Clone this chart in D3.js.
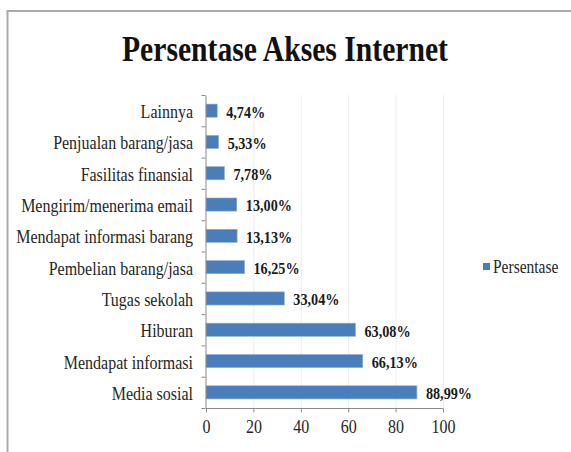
<!DOCTYPE html>
<html><head><meta charset="utf-8">
<script src="https://cdn.jsdelivr.net/npm/d3@7"></script>
<style>body{margin:0;background:#fff}svg{display:block}</style>
</head><body>
<svg id="c" width="571" height="452"></svg>
<script>
const categories = ["Lainnya","Penjualan barang/jasa","Fasilitas finansial","Mengirim/menerima email","Mendapat informasi barang","Pembelian barang/jasa","Tugas sekolah","Hiburan","Mendapat informasi","Media sosial"];
const values = [4.74,5.33,7.78,13.00,13.13,16.25,33.04,63.08,66.13,88.99];
const valueLabels = ["4,74%","5,33%","7,78%","13,00%","13,13%","16,25%","33,04%","63,08%","66,13%","88,99%"];
const xTicks = [0,20,40,60,80,100];
const seriesName = "Persentase";
const title = "Persentase Akses Internet";

const svg = d3.select("#c");
const FONT = "'Liberation Serif','Times New Roman',serif";
const condense = (sel, f) => sel.each(function(){ const w=this.getComputedTextLength(); d3.select(this).attr("textLength", w*f).attr("lengthAdjust","spacingAndGlyphs"); });

// frame
svg.append("line").attr("x1",7.5).attr("x2",571).attr("y1",11).attr("y2",11).attr("stroke","#aaa").attr("stroke-width",2);
svg.append("line").attr("x1",7.5).attr("x2",7.5).attr("y1",10).attr("y2",452).attr("stroke","#aaa").attr("stroke-width",2);

const x = d3.scaleLinear().domain([0,100]).range([206,443]);
const y = d3.scaleBand().domain(categories).range([95,408]).paddingInner(0.58).paddingOuter(0.29);
const yIdx = d3.scaleLinear().domain([0,categories.length]).range([95,408]);

// gridlines
svg.append("g").selectAll("line").data(xTicks.slice(1)).join("line")
  .attr("x1",d=>x(d)+0.5).attr("x2",d=>x(d)+0.5).attr("y1",95).attr("y2",408)
  .attr("stroke","#ececec").attr("stroke-width",1);

// bars
svg.append("g").selectAll("rect").data(values).join("rect")
  .attr("x",x(0)).attr("y",(d,i)=>y(categories[i]))
  .attr("width",d=>x(d)-x(0)).attr("height",y.bandwidth())
  .attr("fill","#4a7ebb").attr("stroke","#8fb0dc").attr("stroke-width",0.6);

// value labels
svg.append("g").selectAll("text").data(values).join("text")
  .attr("x",d=>x(d)+9).attr("y",(d,i)=>y(categories[i])+y.bandwidth()/2+1).attr("dy","0.36em")
  .attr("font-family",FONT).attr("font-weight","bold").attr("font-size",16.5).attr("fill","#1a1a1a")
  .text((d,i)=>valueLabels[i]).call(condense,0.86);

// y axis ticks
const yAx = svg.append("g").attr("transform","translate(205.5,0)")
  .call(d3.axisLeft(yIdx).tickValues(d3.range(categories.length+1)).tickFormat("").tickSize(4).tickSizeOuter(0));
yAx.selectAll("path,line").attr("stroke","#8a8a8a");

// category labels
svg.append("g").selectAll("text").data(categories).join("text")
  .attr("x",193).attr("y",d=>y(d)+y.bandwidth()/2+0.5).attr("dy","0.36em").attr("text-anchor","end")
  .attr("font-family",FONT).attr("font-size",19.5).attr("fill","#262626")
  .text(d=>d).call(condense,0.82);

// x axis
const xAx = svg.append("g").attr("transform","translate(0,408.5)")
  .call(d3.axisBottom(x).tickValues(xTicks).tickSize(4).tickSizeOuter(0).tickFormat(d=>d));
xAx.selectAll("path,line").attr("stroke","#8a8a8a");
xAx.select(".domain").attr("d",`M${x(0)},0H${x(100)}`);
xAx.selectAll("text").attr("font-family",FONT).attr("font-size",19.5).attr("fill","#262626").attr("y",11).attr("dy","0.71em").call(condense,0.82);

// title
svg.append("text").attr("x",285).attr("y",61).attr("text-anchor","middle")
  .attr("font-family",FONT).attr("font-weight","bold").attr("font-size",36).attr("fill","#111")
  .text(title).attr("textLength",326).attr("lengthAdjust","spacingAndGlyphs");

// legend
svg.append("rect").attr("x",483).attr("y",263).attr("width",7).attr("height",7).attr("fill","#4a7ebb");
svg.append("text").attr("x",493).attr("y",266.5).attr("dy","0.36em")
  .attr("font-family",FONT).attr("font-size",18).attr("fill","#262626").text(seriesName).call(condense,0.86);
</script>
</body></html>
